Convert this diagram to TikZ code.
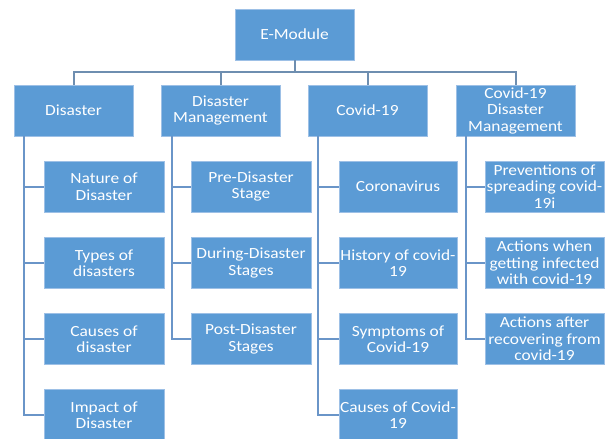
\documentclass[tikz,border=0pt]{standalone}
\usepackage{fontspec}
\setmainfont{Carlito}[FakeStretch=1.12]
\definecolor{boxblue}{HTML}{5B9BD5}
\definecolor{boxedge}{HTML}{9DC0E6}
\definecolor{buscol}{HTML}{6E8EB0}
\definecolor{trunkcol}{HTML}{6A95C8}
\begin{document}
\begin{tikzpicture}[x=1pt,y=-1pt,
  box/.style={rectangle, fill=boxblue, draw=boxedge, line width=0.7pt, inner sep=1pt,
    minimum width=119pt, minimum height=51pt, text=white, align=center,
    font=\fontsize{15.5}{16.5}\selectfont},
  kid/.style={box, minimum width=120pt},
  bus/.style={draw=buscol, line width=2pt},
  trunk/.style={draw=trunkcol, line width=2pt}]
\useasboundingbox (0,0) rectangle (605,439);
% top
\node[box] (top) at (294.5,34.5) {E-Module};
% level 1
\node[box] (d) at (73.5,110.5) {Disaster};
\node[box] (dm) at (220.5,110.5) {Disaster\\Management};
\node[box] (c) at (367.5,110.5) {Covid-19};
\node[box] (cdm) at (515.5,110.5) {Covid-19\\Disaster\\Management};
% children
\node[kid] (d1) at (104,186.5) {Nature of\\Disaster};
\node[kid] (d2) at (104,263) {Types of\\disasters};
\node[kid] (d3) at (104,339) {Causes of\\disaster};
\node[kid] (d4) at (104,415) {Impact of\\Disaster};
\node[kid] (m1) at (251,186.5) {Pre-Disaster\\Stage};
\node[kid] (m2) at (251,263) {During-Disaster\\Stages};
\node[kid] (m3) at (251,339) {Post-Disaster\\Stages};
\node[kid, minimum width=118pt] (c1) at (398,186.5) {Coronavirus};
\node[kid, minimum width=118pt] (c2) at (398,263) {History of covid-\\19};
\node[kid, minimum width=118pt] (c3) at (398,339) {Symptoms of\\Covid-19};
\node[kid, minimum width=118pt] (c4) at (398,415) {Causes of Covid-\\19};
\node[kid, minimum width=119pt] (k1) at (544.5,186.5) {Preventions of\\spreading covid-\\19i};
\node[kid, minimum width=119pt] (k2) at (544.5,263) {Actions when\\getting infected\\with covid-19};
\node[kid, minimum width=119pt] (k3) at (544.5,339) {Actions after\\recovering from\\covid-19};
% bus
\coordinate (busy) at (0,72);
\draw[bus] (top.south) -- (top.south |- busy);
\draw[bus] (d.north) -- (d.north |- busy) -- (cdm.north |- busy) -- (cdm.north);
\draw[bus] (dm.north) -- (dm.north |- busy);
\draw[bus] (c.north) -- (c.north |- busy);
% trunks
\coordinate (td) at (24,0);
\coordinate (tm) at (172,0);
\coordinate (tc) at (318,0);
\coordinate (tk) at (466,0);
\draw[trunk] (td |- d.south) -- (td |- d4.west) -- (d4.west);
\foreach \n in {d1,d2,d3} \draw[trunk] (td |- \n.west) -- (\n.west);
\draw[trunk] (tm |- dm.south) -- (tm |- m3.west) -- (m3.west);
\foreach \n in {m1,m2} \draw[trunk] (tm |- \n.west) -- (\n.west);
\draw[trunk] (tc |- c.south) -- (tc |- c4.west) -- (c4.west);
\foreach \n in {c1,c2,c3} \draw[trunk] (tc |- \n.west) -- (\n.west);
\draw[trunk] (tk |- cdm.south) -- (tk |- k3.west) -- (k3.west);
\foreach \n in {k1,k2} \draw[trunk] (tk |- \n.west) -- (\n.west);
\end{tikzpicture}
\end{document}
